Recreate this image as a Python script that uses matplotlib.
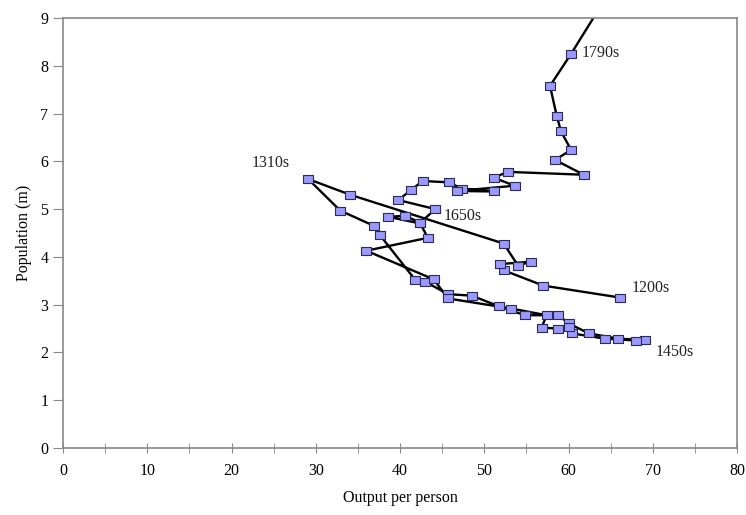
import numpy as np
import matplotlib.pyplot as plt

# decade path: output per person (x) vs population in millions (y)
output = [66.1, 57.0, 52.3, 51.9, 55.5, 54.0, 52.3, 34.1, 29.1, 32.9, 36.9, 37.6,
          41.8, 43.0, 45.7, 48.5, 51.7, 54.8, 58.8, 60.0, 62.4, 65.9, 69.1,
          68.0, 64.3, 60.4, 60.0, 58.8, 56.8, 57.4, 53.2, 45.7, 44.0, 36.0,
          43.3, 42.4, 38.6, 40.6, 42.4, 44.2, 39.8, 41.3, 42.7, 45.8, 47.3,
          51.1, 46.8, 53.6, 51.1, 52.8, 61.8, 58.4, 60.3, 59.1, 58.6, 57.8,
          60.3, 64.0]
population = [3.15, 3.40, 3.72, 3.85, 3.90, 3.82, 4.28, 5.30, 5.63, 4.97, 4.65, 4.46,
              3.52, 3.48, 3.22, 3.19, 2.97, 2.78, 2.78, 2.61, 2.40, 2.29, 2.26,
              2.25, 2.29, 2.40, 2.54, 2.50, 2.52, 2.78, 2.92, 3.13, 3.53, 4.13,
              4.40, 4.70, 4.84, 4.86, 4.72, 5.00, 5.19, 5.40, 5.59, 5.56, 5.43,
              5.37, 5.38, 5.49, 5.66, 5.78, 5.72, 6.03, 6.24, 6.63, 6.95, 7.58,
              8.25, 9.30]

labels = ['1200s', '1310s', '1450s', '1650s', '1790s']
label_x = [67.5, 26.9, 70.3, 45.2, 61.6]
label_y = [3.35, 5.96, 2.02, 4.85, 8.27]
label_ha = ['left', 'right', 'left', 'left', 'left']

rect = [(-1.3, -1), (1.3, -1), (1.3, 1), (-1.3, 1), (-1.3, -1)]

fig = plt.figure(figsize=(7.46, 5.15), dpi=100)
ax = fig.add_axes([0.0845, 0.130, 0.9035, 0.835])

ax.plot(output[:-1], population[:-1], color='black', lw=1.7, marker=rect,
        markersize=7.8, markerfacecolor='#9999ff', markeredgecolor='#2b2b55',
        markeredgewidth=0.8, zorder=3)
ax.plot(output[-2:], population[-2:], color='black', lw=1.7, zorder=2)

for t, x, y, ha in zip(labels, label_x, label_y, label_ha):
    ax.text(x, y, t, ha=ha, va='center', fontsize=11.5,
            family='Liberation Serif', color='#222222')

ax.set_xlim(0, 80)
ax.set_ylim(0, 9)
ax.set_xticks(np.arange(0, 81, 10))
ax.set_xticks(np.arange(5, 80, 10), minor=True)
ax.set_yticks(np.arange(0, 10, 1))

for s in ax.spines.values():
    s.set_color('#888888')
    s.set_linewidth(1.2)

ax.tick_params(axis='x', which='both', direction='inout', length=7, color='#888888',
               labelsize=11.5, pad=7)
ax.tick_params(axis='y', direction='out', length=7, color='#888888', labelsize=11.5)
for lab in ax.get_xticklabels() + ax.get_yticklabels():
    lab.set_family('Liberation Serif')

ax.set_xlabel('Output per person', fontsize=11.5, family='Liberation Serif', labelpad=8)
ax.set_ylabel('Population (m)', fontsize=11.5, family='Liberation Serif', labelpad=6)

fig.savefig('out.png', dpi=100)
